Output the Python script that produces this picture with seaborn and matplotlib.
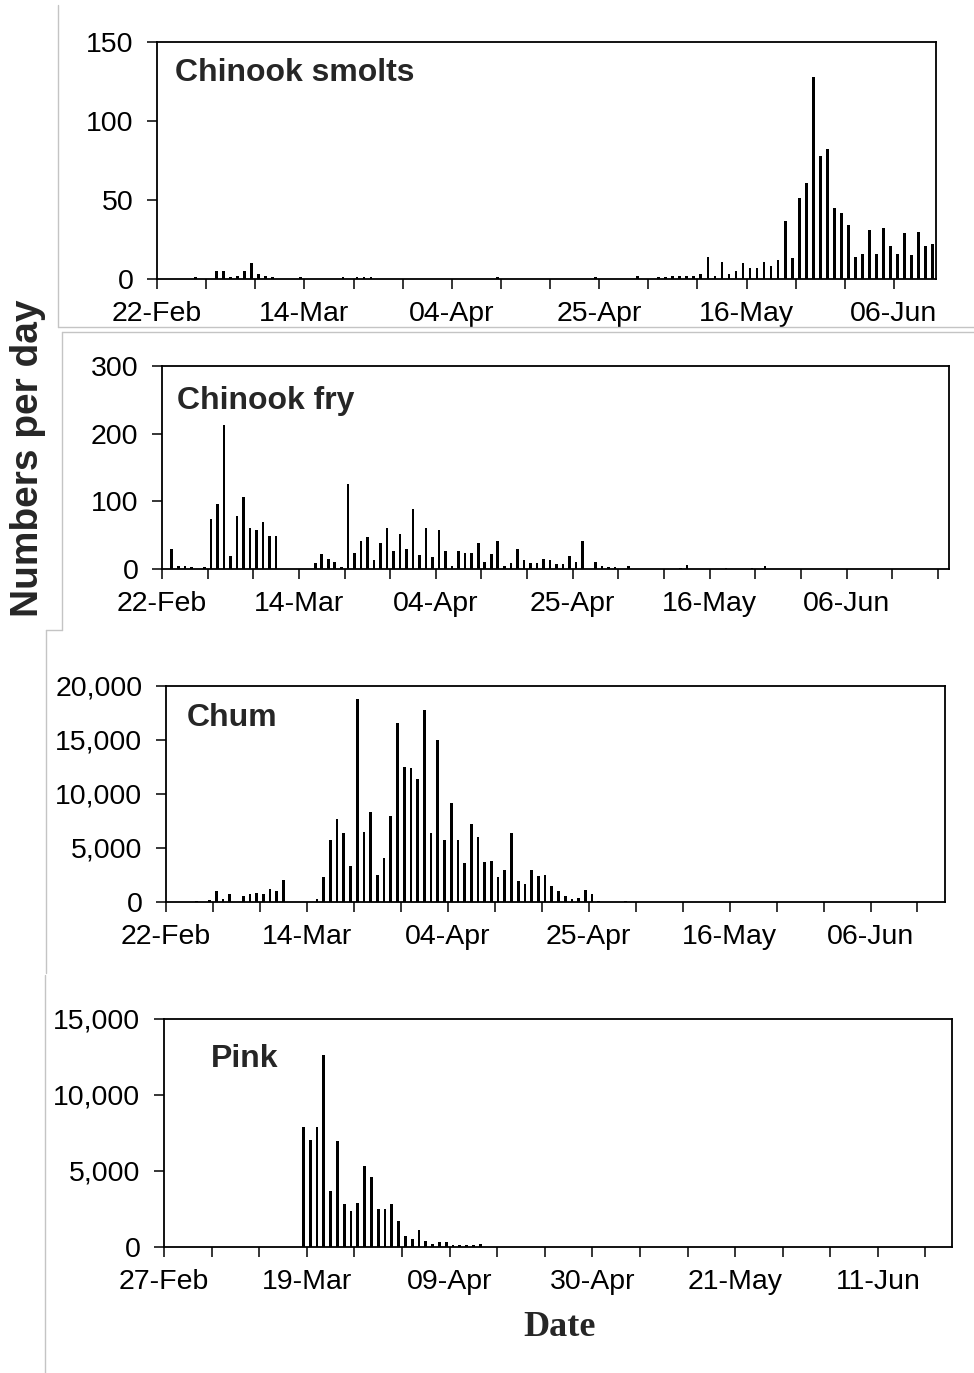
import numpy as np
import pandas as pd
import matplotlib
matplotlib.use('Agg')
import matplotlib.pyplot as plt
import seaborn as sns
from matplotlib.ticker import FuncFormatter, MultipleLocator
from matplotlib.lines import Line2D

# Day of season (0 = first date on the axis) and catch per day
smolt_day = [5, 8, 9, 10, 11, 12, 13, 14, 15, 16, 20, 26, 28, 29, 30, 48, 62, 68,
             71, 72, 73, 74, 75, 76, 77, 78, 79, 80, 81, 82, 83, 84, 85, 86, 87, 88, 89, 90,
             91, 92, 93, 94, 95, 96, 97, 98, 99, 100, 101, 102, 103, 104, 105, 106, 107, 108, 109, 110]
smolt_n = [1, 5, 5, 1, 2, 5, 10, 3, 2, 1, 1, 1, 1, 1, 1, 1, 1, 2,
           1, 1, 2, 2, 2, 2, 3, 14, 2, 11, 3, 5, 10, 7, 7, 11, 8, 12, 37, 13,
           51, 61, 128, 78, 82, 45, 42, 34, 14, 16, 31, 16, 32, 21, 16, 29, 15, 30, 21, 22]

fry_day = [1, 2, 3, 4, 6, 7, 8, 9, 10, 11, 12, 13, 14, 15, 16, 17,
           23, 24, 25, 26, 27, 28, 29, 30, 31, 32, 33, 34, 35, 36, 37, 38, 39, 40,
           41, 42, 43, 44, 45, 46, 47, 48, 49, 50, 51, 52, 53, 54, 55, 56, 57, 58, 59, 60,
           61, 62, 63, 64, 66, 67, 68, 69, 71, 79, 80, 86, 90, 92]
fry_n = [30, 5, 5, 3, 3, 74, 96, 213, 19, 79, 107, 60, 58, 69, 49, 49,
         9, 22, 15, 10, 3, 126, 24, 41, 48, 13, 39, 60, 26, 52, 29, 89, 20, 60,
         17, 58, 26, 5, 26, 24, 24, 39, 10, 22, 41, 5, 9, 30, 13, 9, 9, 15, 13, 7,
         7, 19, 11, 41, 11, 4, 3, 3, 5, 2, 6, 2, 2, 4]

chum_day = [4, 6, 7, 8, 9, 11, 12, 13, 14, 15, 16, 17,
            22, 23, 24, 25, 26, 27, 28, 29, 30, 31, 32, 33, 34, 35, 36, 37, 38, 39, 40,
            41, 42, 43, 44, 45, 46, 47, 48, 49, 50, 51, 52, 53, 54, 55, 56, 57, 58, 59, 60,
            61, 62, 63, 64, 68]
chum_n = [100, 150, 1000, 250, 750, 600, 750, 850, 750, 1200, 1000, 2000,
          250, 2300, 5700, 7700, 6400, 3300, 18800, 6500, 8300, 2500, 4100, 8000, 16600,
          12500, 12400, 11400, 17800, 6400, 15000,
          5700, 9200, 5700, 3600, 7200, 6000, 3700, 3800, 2300, 3000, 6400, 1900, 1700,
          3000, 2400, 2500, 1500, 1000, 600, 300,
          400, 1100, 700, 100, 100]

pink_day = [20, 21, 22, 23, 24, 25, 26, 27, 28, 29, 30, 31, 32, 33, 34, 35, 36, 37, 38,
            39, 40, 41, 42, 43, 44, 45, 46]
pink_n = [7900, 7050, 7900, 12600, 3700, 6950, 2850, 2400, 2900, 5350, 4600, 2500, 2500,
          2850, 1700, 750, 500, 1150, 400, 200, 300, 300, 150, 100, 100, 100, 200]

labels_feb22 = ['22-Feb', '14-Mar', '04-Apr', '25-Apr', '16-May', '06-Jun']
labels_feb27 = ['27-Feb', '19-Mar', '09-Apr', '30-Apr', '21-May', '11-Jun']

sns.set_style('ticks')
plt.rcParams['font.family'] = ['Liberation Sans', 'DejaVu Sans']

W, H = 974, 1373
fig = plt.figure(figsize=(W / 100, H / 100), dpi=100)

# name, days, counts, axis box in pixels (left, right, top, bottom), x span, y max, y step,
# tick labels, title position in axes coords
panels = [
    ('Chinook smolts', smolt_day, smolt_n, (157, 936, 42, 279), 111, 150, 50, labels_feb22, (0.023, 0.868)),
    ('Chinook fry', fry_day, fry_n, (162, 949, 366, 569), 120.7, 300, 100, labels_feb22, (0.019, 0.828)),
    ('Chum', chum_day, chum_n, (166, 945, 686, 902), 116.1, 20000, 5000, labels_feb22, (0.027, 0.853)),
    ('Pink', pink_day, pink_n, (164, 952, 1019, 1247), 115.9, 15000, 5000, labels_feb27, (0.06, 0.826)),
]

for name, days, counts, (l, r, t, b), span, ymax, ystep, xlabels, tpos in panels:
    ax = fig.add_axes([l / W, 1 - b / H, (r - l) / W, (b - t) / H])
    df = pd.DataFrame({'x': np.array(days) + 0.5, 'n': counts})
    sns.barplot(data=df, x='x', y='n', native_scale=True, color='black', saturation=1,
                width=0.4, errorbar=None, ax=ax, linewidth=0)
    ax.set_xlim(0, span)
    ax.set_ylim(0, ymax)
    ax.set_xticks(np.arange(0, 106, 21))
    ax.set_xticklabels(xlabels)
    ax.xaxis.set_minor_locator(MultipleLocator(7))
    ax.set_yticks(np.arange(0, ymax + 1, ystep))
    ax.yaxis.set_major_formatter(FuncFormatter(lambda v, p: f'{v:,.0f}'))
    ax.set_xlabel('')
    ax.set_ylabel('')
    for s in ax.spines.values():
        s.set_visible(True)
        s.set_linewidth(1.3)
        s.set_color('black')
    ax.tick_params(axis='x', which='both', direction='out', length=7, width=1.1,
                   labelsize=20.5, pad=9, colors='black')
    ax.tick_params(axis='y', direction='out', length=7, width=1.1,
                   labelsize=20.5, pad=10, colors='black')
    ax.tick_params(axis='y', which='minor', length=0)
    ax.text(tpos[0], tpos[1], name, transform=ax.transAxes, fontsize=23,
            fontweight='bold', ha='left', va='center')

fig.text(28 / W, 1 - 458 / H, 'Numbers per day', rotation=90, fontsize=28,
         fontweight='bold', ha='center', va='center')
fig.text(559 / W, 1 - 1328 / H, 'Date', fontsize=26, fontweight='bold',
         family=['Liberation Serif', 'DejaVu Serif'], ha='center', va='center')

# light grey borders of the pasted panels
grey = '#c4c4c4'
segments = [
    ((58, 58), (5, 327)), ((58, W), (327, 327)),
    ((62, 62), (332, 630)), ((62, W), (332, 332)), ((46, 62), (630, 630)),
    ((46, 46), (630, 973)), ((45, 45), (975, H)),
]
for xs, ys in segments:
    fig.add_artist(Line2D([x / W for x in xs], [1 - y / H for y in ys],
                          color=grey, lw=1, transform=fig.transFigure))

fig.savefig('out.png', dpi=100)
